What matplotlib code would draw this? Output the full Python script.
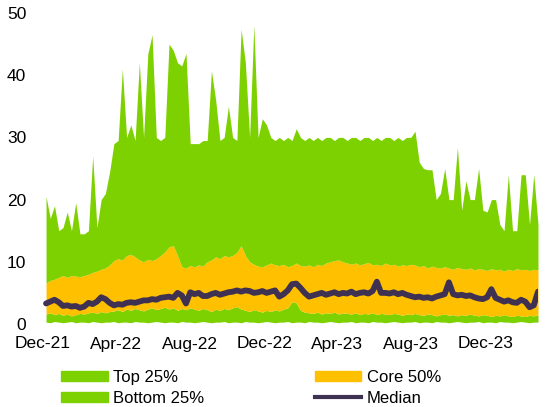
import numpy as np
import pandas as pd
import matplotlib
matplotlib.use("Agg")
import matplotlib.pyplot as plt
import matplotlib.dates as mdates
from matplotlib.patches import Patch
from matplotlib.lines import Line2D

plt.rcParams['font.family'] = ['Liberation Sans', 'DejaVu Sans']

# weekly readings, Dec 2021 -> Feb 2024
dates = pd.date_range('2021-12-06', periods=117, freq='7D')

# upper edge of the top 25% band (max)
top = [20.5, 17, 19, 15, 15.5, 18, 15, 19.5, 14.5, 14.5,
       15, 27, 15.5, 20, 21, 24.5, 29, 29.5, 41, 30,
       32, 29.5, 42, 30, 43.4, 46.5, 30, 29.5, 30, 45,
       44, 42, 41.5, 43.5, 29, 29, 29, 29.5, 29.5, 40.7,
       36, 29.5, 30, 35, 30, 29.5, 47.4, 42, 30, 48,
       30, 33, 32, 30, 29.5, 30, 29.5, 30, 29.5, 31.4,
       30, 29.5, 30, 29.5, 30, 29.5, 30, 30, 29.5, 30,
       30, 29.5, 30, 30, 29.5, 30, 30, 29.5, 30, 29.5,
       30, 30, 29.5, 30, 29.5, 30, 30, 31, 26, 25,
       24.8, 24.8, 20, 21, 25, 20, 20, 28.4, 18.3, 23,
       20, 20, 25, 18.3, 18, 20, 20, 16, 15, 24,
       15, 15, 24, 24, 16, 24, 16]

# 75th percentile (top of core 50%)
p75 = [6.6, 7.0, 7.2, 7.5, 7.8, 7.5, 7.8, 7.7, 7.6, 7.8,
       8.0, 8.3, 8.5, 8.8, 9.0, 9.5, 10.2, 10.5, 10.3, 11.0,
       11.2, 10.8, 10.3, 10.0, 10.4, 10.2, 10.5, 11.0, 11.6, 12.4,
       12.6, 11.0, 9.2, 9.0, 9.4, 9.2, 9.5, 9.3, 10.0, 10.3,
       10.8, 10.5, 11.0, 10.8, 11.0, 11.5, 12.6, 11.0, 10.0, 9.6,
       9.3, 9.2, 9.5, 9.8, 9.5, 9.4, 9.6, 9.2, 9.4, 9.8,
       9.4, 9.3, 9.5, 9.2, 9.6, 9.4, 9.8, 10.0, 10.2, 10.3,
       10.0, 9.8, 9.6, 9.8, 9.5, 9.7, 9.9, 9.5, 9.6, 9.4,
       9.8, 9.5, 9.6, 9.3, 9.5, 9.4, 9.6, 9.5, 9.2, 9.4,
       9.0, 9.3, 9.1, 9.0, 9.2, 9.0, 8.8, 9.1, 8.9, 8.8,
       9.0, 8.7, 8.9, 8.8, 8.6, 8.9, 8.7, 8.8, 8.5, 8.8,
       8.6, 8.9, 8.7, 8.8, 8.6, 8.8, 8.7]

# 25th percentile (top of bottom 25%)
p25 = [1.6, 1.8, 1.5, 1.7, 1.4, 1.6, 1.3, 1.5, 1.7, 1.6,
       1.8, 1.9, 1.7, 2.0, 1.8, 2.0, 2.1, 2.3, 2.0, 2.4,
       2.2, 2.5, 2.3, 2.1, 2.4, 2.6, 2.3, 2.5, 2.7, 2.4,
       2.6, 2.2, 2.5, 2.3, 2.6, 2.4, 2.2, 2.5, 2.3, 2.0,
       2.4, 2.2, 2.5, 2.3, 2.6, 2.8, 2.4, 2.2, 2.0, 2.3,
       2.1, 1.9, 2.2, 2.0, 2.3, 2.1, 2.4, 2.6, 3.6, 3.4,
       2.2, 1.9, 1.8, 1.7, 1.9, 1.6, 1.8, 1.7, 1.9, 1.6,
       1.8, 1.7, 1.6, 1.8, 1.5, 1.7, 1.6, 1.8, 1.5, 1.7,
       1.6, 1.5, 1.7, 1.6, 1.4, 1.6, 1.5, 1.7, 1.5, 1.4,
       1.6, 1.5, 1.3, 1.5, 1.6, 1.4, 1.5, 1.3, 1.5, 1.4,
       1.6, 1.4, 1.3, 1.5, 1.4, 1.2, 1.4, 1.3, 1.5, 1.3,
       1.2, 1.4, 1.3, 1.2, 1.4, 1.3, 1.5]

# lower edge of bottom 25% (min)
low = [0.3, 0.2, 0.4, 0.3, 0.2, 0.3, 0.4, 0.2, 0.3, 0.3,
       0.2, 0.4, 0.3, 0.2, 0.3, 0.3, 0.4, 0.2, 0.3, 0.3,
       0.2, 0.4, 0.3, 0.3, 0.2, 0.3, 0.4, 0.3, 0.2, 0.3,
       0.3, 0.2, 0.4, 0.3, 0.3, 0.2, 0.3, 0.4, 0.3, 0.2,
       0.3, 0.3, 0.4, 0.2, 0.3, 0.3, 0.2, 0.4, 0.3, 0.3,
       0.2, 0.3, 0.4, 0.3, 0.2, 0.3, 0.3, 0.4, 0.2, 0.3,
       0.3, 0.2, 0.4, 0.3, 0.3, 0.2, 0.3, 0.4, 0.3, 0.2,
       0.3, 0.3, 0.4, 0.2, 0.3, 0.3, 0.2, 0.4, 0.3, 0.3,
       0.2, 0.3, 0.4, 0.3, 0.2, 0.3, 0.3, 0.4, 0.2, 0.3,
       0.3, 0.2, 0.4, 0.3, 0.3, 0.2, 0.3, 0.4, 0.3, 0.2,
       0.3, 0.3, 0.4, 0.2, 0.3, 0.3, 0.2, 0.4, 0.3, 0.3,
       0.2, 0.3, 0.4, 0.3, 0.2, 0.3, 0.3]

median = [3.3, 3.6, 3.9, 3.5, 2.9, 3.0, 2.8, 2.9, 2.6, 2.8,
          3.4, 3.2, 3.6, 4.3, 4.0, 3.4, 3.0, 3.2, 3.1, 3.4,
          3.5, 3.4, 3.6, 3.8, 3.8, 4.0, 3.9, 4.2, 4.3, 4.4,
          4.2, 5.0, 4.6, 3.3, 5.1, 4.8, 5.0, 4.5, 4.5, 4.8,
          5.0, 4.7, 4.9, 5.1, 5.2, 5.4, 5.2, 5.4, 5.3, 5.0,
          5.1, 5.3, 5.0, 5.2, 5.4, 4.4, 4.8, 5.4, 6.4, 6.5,
          5.8, 5.0, 4.4, 4.6, 4.8, 5.0, 4.7, 4.9, 5.1, 4.8,
          5.0, 4.9, 5.2, 4.8, 5.0, 5.1, 4.9, 5.3, 6.8, 5.0,
          5.0, 4.9, 5.1, 4.8, 5.0, 4.7, 4.5, 4.3, 4.4, 4.2,
          4.3, 4.1, 4.4, 4.6, 4.8, 6.7, 4.8, 4.6, 4.7, 4.5,
          4.6, 4.3, 4.1, 4.0, 4.3, 5.6, 4.2, 3.9, 3.6, 3.8,
          3.5, 3.4, 3.9, 3.6, 2.7, 3.0, 5.2]

green = '#7ed100'
orange = '#ffc000'
purple = '#3f3151'

fig = plt.figure(figsize=(5.56, 4.07), dpi=100)
ax = fig.add_axes([43/556, 83/407, 495/556, 311/407])

ax.fill_between(dates, low, p25, color=green, lw=0)
ax.fill_between(dates, p25, p75, color=orange, lw=0)
ax.fill_between(dates, p75, top, color=green, lw=0)
ax.plot(dates, median, color=purple, lw=4.2, solid_capstyle='round')

ax.set_ylim(0, 50)
ax.set_yticks([0, 10, 20, 30, 40, 50])
ax.set_xlim(pd.Timestamp('2021-12-01'), dates[-1])
ax.xaxis.set_major_locator(mdates.MonthLocator(bymonth=[4, 8, 12]))
ax.xaxis.set_major_formatter(mdates.DateFormatter('%b-%y'))
ax.tick_params(axis='both', length=0, labelsize=12.5, colors='#000000')
ax.tick_params(axis='y', pad=12)
ax.tick_params(axis='x', pad=9)
for s in ax.spines.values():
    s.set_visible(False)

handles = [Patch(color=green), Patch(color=green), Patch(color=orange),
           Line2D([], [], color=purple, lw=3)]
labels = ['Top 25%', 'Bottom 25%', 'Core 50%', 'Median']
fig.legend(handles, labels, ncol=2, frameon=False, fontsize=12,
           loc='upper left', bbox_to_anchor=(61/556, 1 - 370/407),
           borderpad=0, borderaxespad=0, handlelength=2.8, handleheight=0.55,
           handletextpad=0.35, columnspacing=6.6, labelspacing=0.35)

fig.savefig('out.png', dpi=100)
